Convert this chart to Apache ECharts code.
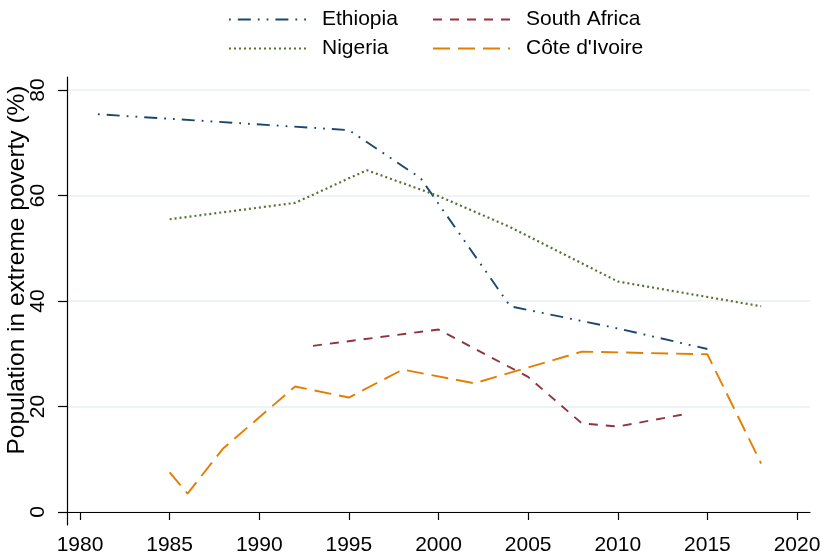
<!DOCTYPE html>
<html>
<head>
<meta charset="utf-8">
<title>Extreme poverty</title>
<script src="https://cdn.jsdelivr.net/npm/echarts@6/dist/echarts.min.js"></script>
<style>
  html, body { margin: 0; padding: 0; background: #fff; }
  #chart { width: 823px; height: 559px; }
</style>
</head>
<body>
<div id="chart"></div>
<script>
// 数据 - 按图读取
const ethiopiaYears = [1981, 1995, 1999, 2004, 2010, 2015];
const ethiopiaVals  = [75.4, 72.4, 63.3, 39.0, 34.8, 30.9];

const nigeriaYears = [1985, 1992, 1996, 2000, 2004, 2010, 2018];
const nigeriaVals  = [55.5, 58.6, 64.8, 59.9, 54.0, 43.7, 39.0];

const southAfricaYears = [1993, 2000, 2005, 2008, 2010, 2014];
const southAfricaVals  = [31.5, 34.6, 25.6, 16.8, 16.2, 18.7];

const coteYears = [1985, 1986, 1988, 1992, 1995, 1998, 2002, 2008, 2015, 2018];
const coteVals  = [7.5, 3.5, 12.1, 23.8, 21.7, 27.0, 24.4, 30.4, 29.9, 9.2];

const xTicks = [1980, 1985, 1990, 1995, 2000, 2005, 2010, 2015, 2020];
const yTicks = [0, 20, 40, 60, 80];

const FONT = '"Liberation Sans", Arial, sans-serif';

function pairs(xs, ys) {
    return xs.map((x, i) => [x, ys[i]]);
}

function makeSeries(name, xs, ys, color, dash, width, offset) {
    return {
        name: name,
        type: 'line',
        data: pairs(xs, ys),
        symbol: 'none',
        symbolSize: 0,
        showSymbol: false,
        animation: false,
        lineStyle: { color: color, width: width, type: dash, dashOffset: offset || 0, cap: 'butt' },
        itemStyle: { color: color }
    };
}

const series = [
    // 长划 + 两个点，从点开始
    makeSeries('Ethiopia', ethiopiaYears, ethiopiaVals, '#1a476f', [13, 7, 1.8, 7, 1.8, 7], 1.9, 28.8),
    makeSeries('Nigeria', nigeriaYears, nigeriaVals, '#55752f', [2, 3], 2.2),
    makeSeries('South Africa', southAfricaYears, southAfricaVals, '#90353b', [9, 8], 1.9),
    makeSeries("Côte d'Ivoire", coteYears, coteVals, '#e37e00', [17, 8], 1.9)
];

// 网格线用 markLine 画，这样可以铺满整个绘图区
series[0].markLine = {
    silent: true,
    symbol: 'none',
    label: { show: false },
    animation: false,
    z: 0,
    lineStyle: { color: '#e8eff3', width: 1.6, type: 'solid' },
    data: yTicks.map(v => ({ yAxis: v }))
};

const legendText = { fontFamily: FONT, fontSize: 21, color: '#000', padding: [0, 0, 0, 11] };

const option = {
    backgroundColor: '#fff',
    animation: false,
    grid: { left: 67, right: 13, top: 77, bottom: 34, containLabel: false, outerBoundsMode: 'none' },
    legend: [
        {
            data: ['Ethiopia', 'Nigeria'],
            orient: 'vertical',
            left: 223, top: 4,
            itemWidth: 77, itemHeight: 14, itemGap: 8,
            itemStyle: { opacity: 0 },
            textStyle: legendText
        },
        {
            data: ['South Africa', "Côte d'Ivoire"],
            orient: 'vertical',
            left: 427, top: 4,
            itemWidth: 77, itemHeight: 14, itemGap: 8,
            itemStyle: { opacity: 0 },
            textStyle: legendText
        }
    ],
    xAxis: {
        type: 'value',
        min: 1979.275,
        max: 2020.725,
        axisLine: { show: true, lineStyle: { color: '#000', width: 1.2 } },
        axisTick: { show: true, customValues: xTicks, length: 8, lineStyle: { color: '#000', width: 1.2 } },
        axisLabel: {
            customValues: xTicks,
            formatter: v => String(v),
            fontFamily: FONT, fontSize: 21, color: '#000', margin: 10
        },
        splitLine: { show: false }
    },
    yAxis: {
        type: 'value',
        min: -2.464,
        max: 82.464,
        name: 'Population in extreme poverty (%)',
        nameLocation: 'middle',
        nameGap: 37,
        nameMoveOverlap: false,
        nameTextStyle: { fontFamily: FONT, fontSize: 24.5, color: '#000', padding: [0, 0, 0, 62] },
        axisLine: { show: true, lineStyle: { color: '#000', width: 1.2 } },
        axisTick: { show: true, customValues: yTicks, length: 9, lineStyle: { color: '#000', width: 1.2 } },
        axisLabel: {
            customValues: yTicks,
            formatter: v => String(v),
            rotate: 90, fontFamily: FONT, fontSize: 21, color: '#000', margin: 18
        },
        splitLine: { show: false }
    },
    series: series
};

const chart = echarts.init(document.getElementById('chart'), null, { renderer: 'canvas' });
chart.setOption(option);
console.log('chart rendered');
</script>
</body>
</html>
